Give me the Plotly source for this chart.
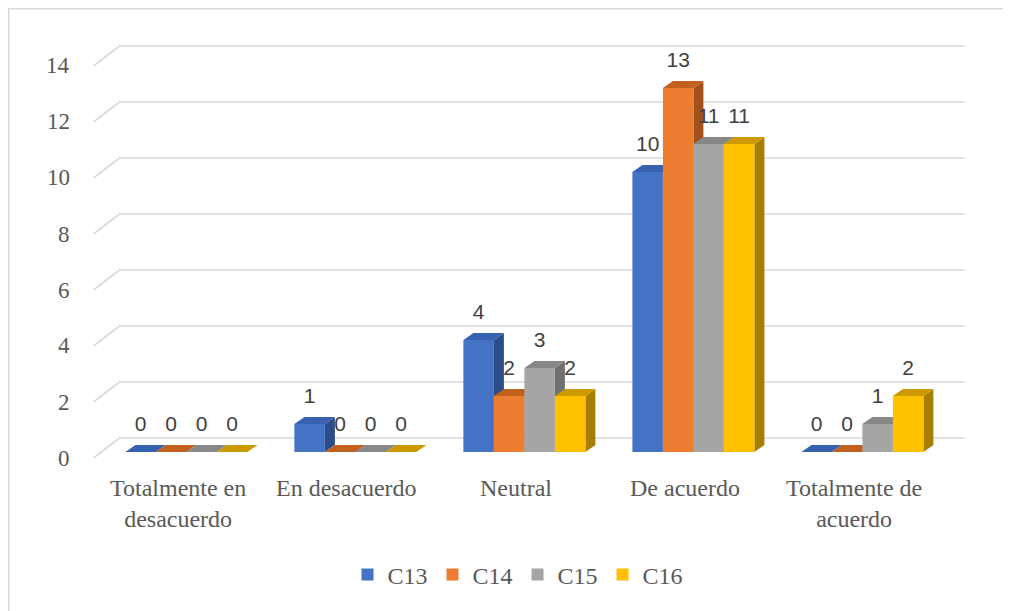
import plotly.graph_objects as go

# ---------------- data ----------------
categories = ["Totalmente en<br>desacuerdo", "En desacuerdo", "Neutral",
              "De acuerdo", "Totalmente de<br>acuerdo"]
series_names = ["C13", "C14", "C15", "C16"]
c13 = [0, 1, 4, 10, 0]
c14 = [0, 0, 2, 13, 0]
c15 = [0, 0, 3, 11, 1]
c16 = [0, 0, 2, 11, 2]
y_ticks = [0, 2, 4, 6, 8, 10, 12, 14]

series_values = [c13, c14, c15, c16]

# ---------------- style ----------------
front_colors = ["#4472C4", "#ED7D31", "#A5A5A5", "#FFC000"]
top_colors = ["#3862B0", "#C2611E", "#878787", "#CC9A00"]
side_colors = ["#2D4D8A", "#A1511A", "#6F6F6F", "#A67F00"]
grid_color = "#D9D9D9"
label_color = "#404040"
axis_text_color = "#595959"
serif = "Liberation Serif, Times New Roman, serif"
sans = "Liberation Sans, Arial, sans-serif"

PX_X = 169.0   # pixels per category
PX_Y = 28.0    # pixels per value unit
BAR_W = 30.5 / PX_X
DX, DY = 10 / PX_X, 7 / PX_Y          # bar depth (oblique)
FX, FY = -8.5 / PX_X, -6 / PX_Y       # front (label) plane offset
BX, BY = 17.5 / PX_X, 14 / PX_Y       # back wall offset
LAB = 26 / PX_Y                       # data label offset

OFF = 8  # page body margin of the browser
W, H = 1011 - OFF, 611 - OFF
ML, MT = 85 - OFF, 32 - OFF
plot_w, plot_h = 887, 437
MR = W - ML - plot_w
MB = H - MT - plot_h
x0 = -0.6
x_range = [x0, x0 + plot_w / PX_X]
y_top = 15.0
y_range = [y_top - plot_h / PX_Y, y_top]


def px_to_paper_x(px_screen):
    return (px_screen - OFF - ML) / plot_w


def px_to_paper_y(py_screen):
    return (H - MB - (py_screen - OFF)) / plot_h


def data_to_paper_x(x):
    return (x - x_range[0]) / (x_range[1] - x_range[0])


def data_to_paper_y(y):
    return (y - y_range[0]) / (y_range[1] - y_range[0])


n_cat = len(categories)
fig = go.Figure()

# ---- gridlines (left side wall + back wall) ----
gx, gy = [], []
for v in y_ticks:
    gx += [-0.5 + FX, -0.5 + BX, n_cat - 0.5 + BX, None]
    gy += [v + FY, v + BY, v + BY, None]
fig.add_trace(go.Scatter(x=gx, y=gy, mode="lines",
                         line=dict(color=grid_color, width=1.6),
                         hoverinfo="skip", showlegend=False))

# ---- 3D bars ----
ns = len(series_values)
for j in range(n_cat):
    for i in range(ns):
        v = series_values[i][j]
        xl = j - ns / 2 * BAR_W + i * BAR_W
        xr = xl + BAR_W
        if v > 0:
            fig.add_trace(go.Scatter(
                x=[xr, xr + DX, xr + DX, xr, xr],
                y=[0, DY, v + DY, v, 0],
                fill="toself", fillcolor=side_colors[i], mode="none",
                hoverinfo="skip", showlegend=False))
        fig.add_trace(go.Scatter(
            x=[xl, xr, xr + DX, xl + DX, xl],
            y=[v, v, v + DY, v + DY, v],
            fill="toself", fillcolor=top_colors[i], mode="none",
            hoverinfo="skip", showlegend=False))
        if v > 0:
            fig.add_trace(go.Scatter(
                x=[xl, xr, xr, xl, xl],
                y=[0, 0, v, v, 0],
                fill="toself", fillcolor=front_colors[i], mode="none",
                hoverinfo="skip", showlegend=False))
        fig.add_trace(go.Scatter(
            x=[(xl + xr) / 2], y=[v + LAB], mode="text", text=[str(v)],
            textposition="middle center",
            textfont=dict(family=sans, size=21, color=label_color),
            hoverinfo="skip", showlegend=False, cliponaxis=False))

# ---- legend entries ----
for i, name in enumerate(series_names):
    fig.add_trace(go.Scatter(x=[None], y=[None], mode="markers", name=name,
                             marker=dict(symbol="square", size=12,
                                         color=front_colors[i])))

# ---- axis labels as annotations (paper coords) ----
annotations = []
for v in y_ticks:
    annotations.append(dict(
        x=px_to_paper_x(72), y=data_to_paper_y(v + FY),
        xref="paper", yref="paper", text=str(v), showarrow=False,
        xanchor="right", yanchor="middle",
        font=dict(family=serif, size=23, color=axis_text_color)))
for j, cat in enumerate(categories):
    annotations.append(dict(
        x=data_to_paper_x(j + FX), y=px_to_paper_y(473),
        xref="paper", yref="paper", text=cat, showarrow=False,
        xanchor="center", yanchor="top", align="center",
        font=dict(family=serif, size=24, color=axis_text_color)))

# ---- chart border ----
shapes = [dict(type="rect", xref="paper", yref="paper",
               x0=px_to_paper_x(OFF + 0.75), x1=px_to_paper_x(1040),
               y0=px_to_paper_y(650), y1=px_to_paper_y(OFF + 0.75),
               line=dict(color="#D9D9D9", width=1.5),
               fillcolor="rgba(0,0,0,0)", layer="below")]

fig.update_layout(
    width=W, height=H,
    margin=dict(l=ML, r=MR, t=MT, b=MB, autoexpand=False),
    paper_bgcolor="white", plot_bgcolor="white",
    xaxis=dict(range=x_range, visible=False, fixedrange=True),
    yaxis=dict(range=y_range, visible=False, fixedrange=True),
    showlegend=True,
    legend=dict(orientation="h", x=px_to_paper_x(518), xanchor="center",
                y=px_to_paper_y(575), yanchor="middle",
                font=dict(family=serif, size=24, color=axis_text_color),
                itemclick=False, itemdoubleclick=False),
    annotations=annotations,
    shapes=shapes,
)

fig.write_html("out.html")
